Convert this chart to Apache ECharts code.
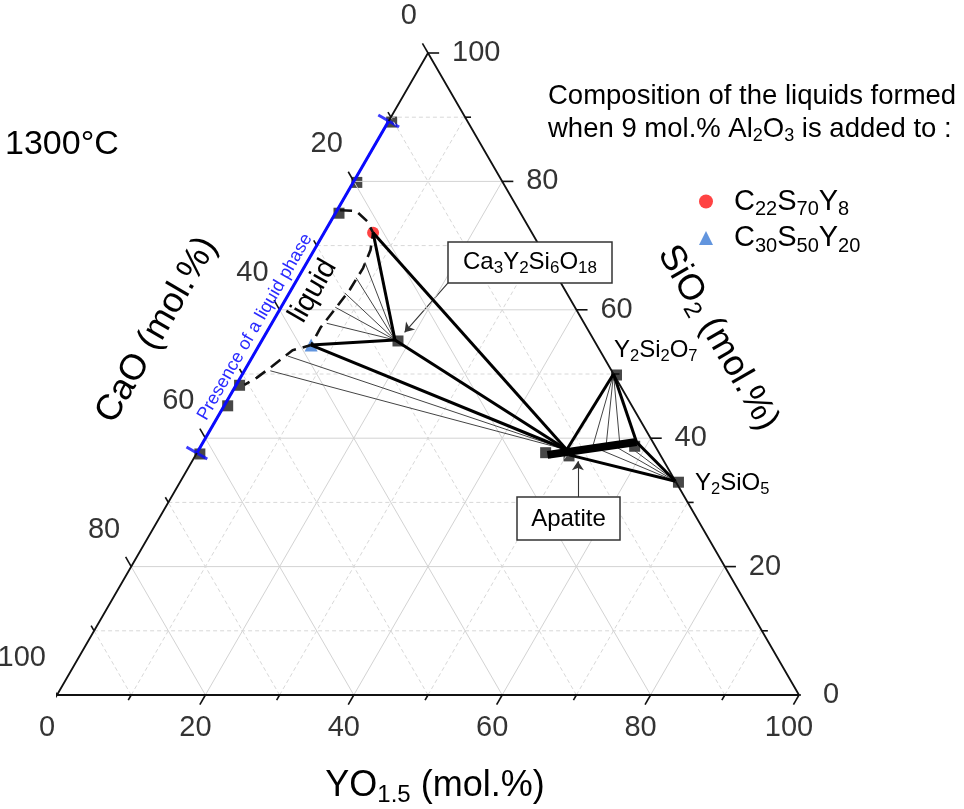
<!DOCTYPE html>
<html><head><meta charset="utf-8">
<script src="https://cdn.jsdelivr.net/npm/echarts@6/dist/echarts.min.js"></script>
<style>html,body{margin:0;padding:0;background:#fff}#c{width:964px;height:809px}</style>
</head><body><div id="c"></div>
<script>
// all compositions are [CaO, SiO2, YO1.5] in mol.%
const tickValues = [0,10,20,30,40,50,60,70,80,90,100];
const tickLabels = [0,20,40,60,80,100];
const gridValues = [10,20,30,40,50,60,70,80,90];

const liquidC22S70Y8 = [[21.4,72.0,6.6]];
const liquidC30S50Y20 = [[38.5,54.5,7.0]];
const legendNames = ['C22S70Y8','C30S50Y20'];
const legendRich = ['{m|C}{s|22}{m|S}{s|70}{m|Y}{s|8}','{m|C}{s|30}{m|S}{s|50}{m|Y}{s|20}'];

const phaseSquares = [
  [10.6,89.4,0],[20.0,80.0,0],[24.8,75.2,0],[51.6,48.4,0],[54.8,45.2,0],[62.3,37.7,0],
  [26.8,55.3,17.9],[0,50,50],[0,33.3,66.7],[15.6,37.9,46.5],[12.7,37.4,49.9],[3.1,38.9,58.0]
];
const ca3y2si6o18 = [26.8,55.3,17.9];
const y2si2o7 = [0,50,50];
const y2sio5 = [0,33.3,66.7];
const apatiteNode = [12.2,38.2,49.6];
const apatiteLow = [12.3,37.4,50.3];
const apatiteSS = [[15.2,37.4,47.4],[2.2,39.4,58.4]];
const liquidPresence = [[62.3,37.7,0],[10.6,89.4,0]];
const liquidBoundary = [
  [24.1,75.5,0.4],[22.0,75.4,2.6],[21.3,73.8,4.9],[21.4,72.0,6.6],[23.1,69.3,7.6],
  [25.5,66.5,8.0],[28.9,63.2,7.9],[32.6,60.0,7.4],[35.9,57.2,6.9],[38.5,54.5,7.0],
  [41.4,53.7,4.9],[45.4,51.2,3.4],[48.4,49.4,2.2],[50.6,48.3,1.1]
];
const tiesFromCa3 = [[24.8,67.4,7.8],[27.2,65.0,7.8],[29.9,62.6,7.5],[32.3,60.4,7.3],[34.7,57.9,7.4]];
const tiesFromApatite = [[42.5,52.8,4.7],[46.0,50.5,3.5]];
const tiesFromY2Si2O7 = [[8.6,38.5,52.9],[6.6,38.8,54.6],[4.6,39.1,56.3]];
const tiesFromY2SiO5 = [[7.7,38.2,54.1],[5.2,38.5,56.3],[3.6,38.8,57.6]];
const annotationArrows = [[[15.2,64.2,20.6],[24.9,56.5,18.6]],[[14.4,30.8,54.8],[11.6,36.4,52.0]]];

const FONT = "'Liberation Sans', Arial, Helvetica, sans-serif";

function tern(p){ const t=p[0]+p[1]+p[2]; const S=p[1]*100/t, Y=p[2]*100/t; return [Y+S/2, S]; }
function seg(points, style){ return {type:'line', data:points.map(tern), symbol:'none', showSymbol:false, lineStyle:style, silent:true, clip:false, animation:false}; }
function R(main, sub, shift, color){
  const c = color||'#000';
  return { m:{fontSize:main, fontFamily:FONT, fill:c, color:c},
           s:{fontSize:sub, fontFamily:FONT, padding:[2*shift,0,0,0], fill:c, color:c} };
}

const series = [];
// grid
gridValues.forEach(k=>{
  const st = (k%20===0) ? {color:'#d3d3d3', width:1} : {color:'#d8d8d8', width:1, type:[4,3]};
  series.push(seg([[100-k,k,0],[0,k,100-k]], st));
  series.push(seg([[100-k,0,k],[0,100-k,k]], st));
  series.push(seg([[k,0,100-k],[k,100-k,0]], st));
});
// triangle edges
series.push(seg([[100,0,0],[0,0,100],[0,100,0],[100,0,0]], {color:'#111', width:1.8}));
// ticks
tickValues.forEach(v=>{
  const t = (v%20===0) ? 1.5 : 0.8;
  const st = {color:'#111', width:1.6};
  series.push(seg([[100-v,0,v],[100-v+t,-t,v]], st));       // YO1.5 axis (bottom)
  series.push(seg([[0,v,100-v],[-t,v,100-v+t]], st));       // SiO2 axis (right)
  series.push(seg([[v,100-v,0],[v,100-v+t,-t]], st));       // CaO axis (left)
});
// phase squares
series.push({type:'scatter', data:phaseSquares.map(tern), symbol:'rect', symbolSize:11, symbolOffset:[3,1],
  itemStyle:{color:'#3d3d3d', opacity:0.95}, silent:true, clip:false, animation:false});
// presence of liquid phase (blue)
series.push(seg(liquidPresence, {color:'#0a0aff', width:3}));
series.push({type:'scatter', data:liquidPresence.map(tern), symbol:'rect', symbolSize:[24,3], symbolRotate:-30,
  itemStyle:{color:'#0a0aff'}, silent:true, clip:false, animation:false});
// liquid boundary
series.push(seg(liquidBoundary, {color:'#111', width:2.6, type:[12,7]}));
// thin tie lines
const thin = {color:'#444', width:1};
tiesFromCa3.forEach(p=>series.push(seg([ca3y2si6o18,p], thin)));
tiesFromApatite.forEach(p=>series.push(seg([apatiteNode,p], thin)));
tiesFromY2Si2O7.forEach(p=>series.push(seg([y2si2o7,p], thin)));
tiesFromY2SiO5.forEach(p=>series.push(seg([y2sio5,p], thin)));
// liquid points
series.push({type:'scatter', name:legendNames[0], data:liquidC22S70Y8.map(tern), symbol:'circle', symbolSize:12,
  itemStyle:{color:'#ff1414'}, silent:true, animation:false});
series.push({type:'scatter', name:legendNames[1], data:liquidC30S50Y20.map(tern), symbol:'triangle', symbolSize:13,
  itemStyle:{color:'#3b7bd6'}, silent:true, animation:false});
// thick tie lines
const thick = {color:'#000', width:3};
const red = liquidC22S70Y8[0], blue = liquidC30S50Y20[0];
[[red,ca3y2si6o18],[red,apatiteNode],[blue,ca3y2si6o18],[blue,apatiteNode],[ca3y2si6o18,apatiteNode],
 [apatiteNode,y2si2o7],[y2si2o7,apatiteSS[1]],[apatiteSS[1],y2sio5],[apatiteLow,y2sio5]]
 .forEach(pr=>series.push(seg(pr, thick)));
// apatite solid solution
series.push(seg(apatiteSS, {color:'#000', width:8}));
// annotation arrows
series.push({type:'lines', coordinateSystem:'cartesian2d', data:annotationArrows.map(a=>({coords:[tern(a[0]),tern(a[1])]})),
  symbol:['none','arrow'], symbolSize:9, lineStyle:{color:'#333', width:1.1, opacity:1}, silent:true, animation:false});
// tick labels
const lab = (pts, offs, align)=>({type:'scatter', data:pts.map(tern), symbolSize:1, itemStyle:{color:'rgba(0,0,0,0)'},
  silent:true, clip:false, animation:false,
  label:{show:true, position:'inside', align:align, verticalAlign:'middle', offset:offs, fontSize:29, fontFamily:FONT, color:'#000',
    formatter:p=>String(tickLabels[p.dataIndex])}});
series.push(lab(tickLabels.map(v=>[100-v,0,v]), [-10,33], 'center'));
series.push(lab(tickLabels.map(v=>[0,v,100-v]), [24,0], 'left'));
series.push(lab(tickLabels.map(v=>[v,100-v,0]), [-11,-37], 'right'));

const T = (x,y,text,o)=>({type:'text', x:x, y:y, rotation:(o.rot||0), z:100, silent:true,
  style:{text:text, fill:o.color||'#000', fontSize:o.size, fontFamily:FONT, align:o.align||'left', verticalAlign:'middle', rich:o.rich}});

const graphic = [
  T(5,145,'1300°C',{size:34}),
  T(548,96,'Composition of the liquids formed',{size:27.5}),
  T(548,129,'{m|when 9 mol.% Al}{s|2}{m|O}{s|3}{m| is added to :}',{size:27.5, rich:R(27.5,18,7)}),
  T(435,786,'{m|YO}{s|1.5}{m| (mol.%)}',{size:36, align:'center', rich:R(36,24,9)}),
  T(157,330,'CaO (mol.%)',{size:36, align:'center', rot:Math.PI/3}),
  T(718,338,'{m|SiO}{s|2}{m| (mol.%)}',{size:36, align:'center', rot:-Math.PI/3, rich:R(36,24,9)}),
  T(255,327,'Presence of a liquid phase',{size:18, align:'center', rot:Math.PI/3, color:'#2a2aff'}),
  T(313,291,'liquid',{size:29, align:'center', rot:Math.PI/3}),
  {type:'rect', z:99, silent:true, shape:{x:448,y:242,width:164,height:41}, style:{fill:'#fff', stroke:'#333', lineWidth:1.5}},
  T(530,262,'{m|Ca}{s|3}{m|Y}{s|2}{m|Si}{s|6}{m|O}{s|18}',{size:24, align:'center', rich:R(24,17,6)}),
  {type:'rect', z:99, silent:true, shape:{x:517,y:497,width:103,height:43}, style:{fill:'#fff', stroke:'#333', lineWidth:1.5}},
  T(568.5,519,'Apatite',{size:24, align:'center'}),
  T(614,350,'{m|Y}{s|2}{m|Si}{s|2}{m|O}{s|7}',{size:24, rich:R(24,16.5,6)}),
  T(695,483,'{m|Y}{s|2}{m|SiO}{s|5}',{size:24, rich:R(24,16.5,6)})
];

const chart = echarts.init(document.getElementById('c'), null, {renderer:'canvas'});
chart.setOption({
  animation:false,
  backgroundColor:'#fff',
  grid:{left:57, right:165, top:53, bottom:114},
  xAxis:{type:'value', min:0, max:100, show:false},
  yAxis:{type:'value', min:0, max:100, show:false},
  legend:{left:694, top:182, orient:'vertical', itemWidth:14, itemHeight:14, itemGap:4,
    data:[{name:legendNames[0], icon:'circle'},{name:legendNames[1], icon:'triangle'}],
    formatter:n=>legendRich[legendNames.indexOf(n)],
    textStyle:{fontFamily:FONT, fontSize:29, color:'#000', padding:[0,0,0,16], rich:R(29,20,8)}},
  series:series,
  graphic:graphic
});
</script></body></html>
